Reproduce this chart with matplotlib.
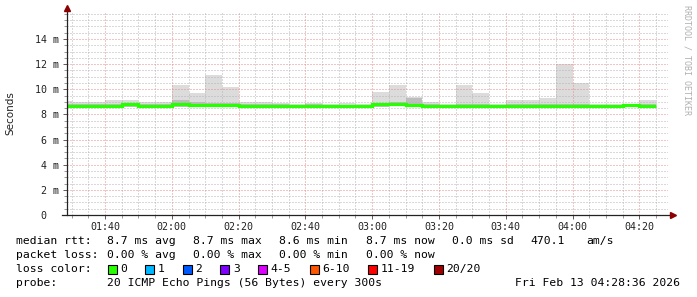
import numpy as np
import matplotlib
matplotlib.use("Agg")
from matplotlib import pyplot as plt
from matplotlib.patches import Rectangle

W, H = 697, 297

# 5 minute slots (start time of each slot)
slots = ["01:25", "01:30", "01:35", "01:40", "01:45", "01:50", "01:55",
         "02:00", "02:05", "02:10", "02:15", "02:20", "02:25", "02:30",
         "02:35", "02:40", "02:45", "02:50", "02:55", "03:00", "03:05",
         "03:10", "03:15", "03:20", "03:25", "03:30", "03:35", "03:40",
         "03:45", "03:50", "03:55", "04:00", "04:05", "04:10", "04:15",
         "04:20"]
# ms
rtt_max = [9.07, 9.00, 8.97, 9.15, 9.15, 9.00, 8.97, 10.34, 9.70, 11.14,
           10.18, 9.00, 8.97, 8.94, 8.80, 8.94, 8.80, 8.92, 8.80, 9.78,
           10.34, 9.41, 8.99, 8.80, 10.34, 9.70, 8.80, 9.12, 9.12, 9.30,
           12.00, 10.53, 8.83, 8.83, 8.83, 9.12]
rtt_core = [8.85, 8.80, 8.80, 8.85, 8.90, 8.80, 8.80, 9.12, 9.00, 8.88,
            8.88, 8.82, 8.80, 8.80, 8.76, 8.80, 8.76, 8.78, 8.76, 8.90,
            9.00, 9.30, 8.82, 8.76, 8.85, 8.85, 8.76, 8.82, 8.80, 8.82,
            8.85, 8.85, 8.78, 8.78, 8.80, 8.82]
rtt_median = [8.70, 8.70, 8.70, 8.70, 8.80, 8.70, 8.70, 8.80, 8.72, 8.72,
              8.72, 8.70, 8.70, 8.70, 8.70, 8.70, 8.70, 8.66, 8.70, 8.80,
              8.82, 8.72, 8.70, 8.70, 8.70, 8.70, 8.70, 8.70, 8.65, 8.65,
              8.70, 8.70, 8.70, 8.70, 8.73, 8.70]
rtt_min = [8.60, 8.60, 8.60, 8.60, 8.62, 8.60, 8.60, 8.62, 8.60, 8.60,
           8.60, 8.60, 8.60, 8.60, 8.60, 8.60, 8.60, 8.58, 8.60, 8.62,
           8.64, 8.60, 8.60, 8.60, 8.60, 8.60, 8.60, 8.60, 8.55, 8.55,
           8.60, 8.60, 8.54, 8.54, 8.60, 8.60]

time_ticks = ["01:40", "02:00", "02:20", "02:40", "03:00", "03:20",
              "03:40", "04:00", "04:20"]
y_ticks = [0, 2, 4, 6, 8, 10, 12, 14]
t_start, t_end = "01:28:36", "04:28:36"

loss_labels = ["0", "1", "2", "3", "4-5", "6-10", "11-19", "20/20"]
loss_colors = ["#26ff00", "#00b8ff", "#0059ff", "#7e00ff", "#dd00ff",
               "#ff5500", "#ff0000", "#a10000"]


def minutes(s):
    parts = [int(p) for p in s.split(":")]
    while len(parts) < 3:
        parts.append(0)
    return parts[0] * 60 + parts[1] + parts[2] / 60


starts = np.array([minutes(s) for s in slots])
edges = np.append(starts, starts[-1] + 5)

plt.rcParams['font.family'] = ['DejaVu Sans']
mono = 'DejaVu Sans Mono'

fig = plt.figure(figsize=(W / 100, H / 100), dpi=100)
fig.patch.set_facecolor('white')
ax = fig.add_axes([67 / W, (H - 215) / H, 601 / W, 202 / H])

# smoke
ax.stairs(rtt_max, edges, baseline=rtt_min, fill=True, color='#dcdcdc',
          lw=0, zorder=1)
ax.stairs(rtt_core, edges, baseline=rtt_min, fill=True, color='#bdbdbd',
          lw=0, zorder=1.2)
# median
ax.stairs(rtt_median, edges, baseline=None, color='#26ff00', lw=2.3,
          zorder=3)

ax.set_xlim(minutes(t_start), minutes(t_end))
ax.set_ylim(0, 16.07)

ax.set_xticks([minutes(t) for t in time_ticks])
ax.set_xticklabels(time_ticks, fontfamily=mono, fontsize=7.2)
ax.set_xticks(np.arange(90, 270, 5), minor=True)
ax.set_yticks(y_ticks)
ax.set_yticklabels([("%d m" % v) if v else "0  " for v in y_ticks],
                   fontfamily=mono, fontsize=7.2)
ax.set_yticks(np.arange(0, 16.01, 0.5), minor=True)

ax.set_axisbelow(False)
ax.grid(which='minor', color='#b4b4b4', lw=0.72, ls=(0, (1, 2)))
ax.grid(which='major', color='#e68a8a', lw=0.72, ls=(0, (1, 2)))
ax.tick_params(which='major', length=3, width=0.6, color='#444444',
               pad=2, labelcolor='#222222')
ax.tick_params(which='minor', length=2, width=0.6, color='#888888')
ax.tick_params(axis='y', pad=3)

for sp in ax.spines.values():
    sp.set_visible(False)

# axis lines with arrows
ax.plot([0, 0], [0, 1 + 3 / 202], transform=ax.transAxes, color='#222222',
        lw=0.9, clip_on=False, zorder=5)
ax.plot([-5 / 601, 1 + 3 / 601], [0, 0], transform=ax.transAxes,
        color='#222222', lw=0.9, clip_on=False, zorder=5)
ax.plot(0, 1 + 5 / 202, marker='^', ms=4, color='#8b0000',
        transform=ax.transAxes, clip_on=False, zorder=6)
ax.plot(1 + 5 / 601, 0, marker='>', ms=4, color='#8b0000',
        transform=ax.transAxes, clip_on=False, zorder=6)


def fx(x):
    return x / W


def fy(y):
    return 1 - y / H


fig.text(fx(10), fy(113), "Seconds", rotation=90, ha='center', va='center',
         fontsize=7.5, color='#222222')
fig.text(fx(687), fy(5), "RRDTOOL / TOBI OETIKER", rotation=270,
         ha='center', va='top', fontfamily=mono, fontsize=6,
         color='#b0b0b0')

fs = 8.2
cols = [107, 193, 279, 366, 452, 530, 586]
line1 = ["8.7 ms avg", "8.7 ms max", "8.6 ms min", "8.7 ms now",
         "0.0 ms sd", "470.1", "am/s"]
line2 = ["0.00 % avg", "0.00 % max", "0.00 % min", "0.00 % now"]

fig.text(fx(16), fy(241), "median rtt:", fontfamily=mono, fontsize=fs,
         va='center')
for x, t in zip(cols, line1):
    fig.text(fx(x), fy(241), t, fontfamily=mono, fontsize=fs, va='center')
fig.text(fx(16), fy(255), "packet loss:", fontfamily=mono, fontsize=fs,
         va='center')
for x, t in zip(cols, line2):
    fig.text(fx(x), fy(255), t, fontfamily=mono, fontsize=fs, va='center')

fig.text(fx(16), fy(269), "loss color:", fontfamily=mono, fontsize=fs,
         va='center')
x = 107.5
for lab, col in zip(loss_labels, loss_colors):
    fig.patches.append(Rectangle((fx(x), fy(274)), 9 / W, 9 / H,
                                 transform=fig.transFigure, facecolor=col,
                                 edgecolor='black', lw=0.8))
    fig.text(fx(x + 12.5), fy(269), lab, fontfamily=mono, fontsize=fs,
             va='center')
    x = x + 12.5 + len(lab) * 6.96 + 18.2

fig.text(fx(16), fy(283), "probe:", fontfamily=mono, fontsize=fs,
         va='center')
fig.text(fx(107), fy(283), "20 ICMP Echo Pings (56 Bytes) every 300s",
         fontfamily=mono, fontsize=fs, va='center')
fig.text(fx(680), fy(283), "Fri Feb 13 04:28:36 2026", fontfamily=mono,
         fontsize=fs, va='center', ha='right')

plt.savefig("out.png", dpi=100)
plt.close()
